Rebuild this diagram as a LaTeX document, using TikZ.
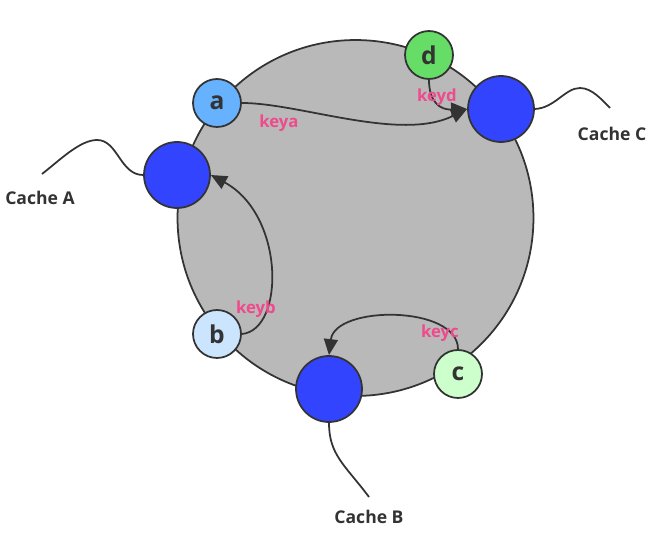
\documentclass[tikz,border=0pt]{standalone}
\usepackage{fontspec}
\setmainfont{Open Sans}
\usepackage{xcolor}
\usetikzlibrary{arrows.meta}
\definecolor{ringgray}{HTML}{B9B9B9}
\definecolor{edgegray}{HTML}{333333}
\definecolor{cacheblue}{HTML}{3344FF}
\definecolor{keypink}{HTML}{EE4A8C}
\definecolor{fillA}{HTML}{66B2FF}
\definecolor{fillB}{HTML}{CCE5FF}
\definecolor{fillC}{HTML}{CCFFCC}
\definecolor{fillD}{HTML}{66DD66}
\tikzset{
  ring/.style   ={draw=edgegray,fill=ringgray,line width=1pt},
  cache/.style  ={circle,draw=edgegray,fill=cacheblue,minimum size=1.32cm,inner sep=0pt,line width=1pt},
  key/.style    ={circle,draw=edgegray,minimum size=0.96cm,inner sep=0pt,line width=1pt,
                  font=\fontsize{14}{16}\selectfont\bfseries,text=edgegray},
  wire/.style   ={draw=edgegray,line width=1pt},
  hop/.style    ={-{Triangle[length=3.2mm,width=2.8mm]},line width=1pt,edgegray},
  cname/.style  ={font=\fontsize{10}{12}\selectfont\bfseries,text=edgegray},
  klbl/.style   ={font=\fontsize{9.5}{11}\selectfont\bfseries,text=keypink},
}
\begin{document}
\begin{tikzpicture}[x=0.02cm,y=-0.02cm]
  \useasboundingbox (0,0) rectangle (650,533);
  % the hash ring
  \draw[ring] (355.5,218) circle[radius=3.56cm];
  % cache servers on the ring
  \node[cache] (cA) at (177,175) {};
  \node[cache] (cB) at (329,389) {};
  \node[cache] (cC) at (501,109) {};
  % keys on the ring
  \foreach \k/\x/\y/\f in {a/217/103/fillA, b/217/334/fillB, c/458/374/fillC, d/429/55/fillD}{
    \node[key,fill=\f] (\k) at (\x,\y) {\k};
  }
  % leads out to the cache names
  \coordinate (endA) at (42,174);
  \coordinate (endB) at (369,497);
  \coordinate (endC) at (610,108);
  \draw[wire] (cA.west) .. controls (120,175) and (118,140) .. (97,140)
                        .. controls (80,140) and (60,160) .. (endA);
  \draw[wire] (cC.east) .. controls (555,108) and (565,88) .. (580,88)
                        .. controls (592,88) and (602,100) .. (endC);
  \draw[wire] (cB.south) .. controls (329,455) and (345,465) .. (endB);
  \node[cname] (nA) at (40,198) {Cache A};
  \node[cname] (nB) at (369,517) {Cache B};
  \node[cname] (nC) at (612,134) {Cache C};
  % each key goes clockwise to the next cache
  \draw[hop] (a.east) .. controls (300,103) and (400,142) .. (cC.west);
  \draw[hop] (d.south) .. controls (429,102) and (440,110) .. (cC.west);
  \draw[hop] (b.east) .. controls (285,330) and (285,215) .. (cA.east);
  \draw[hop] (c.north) .. controls (458,305) and (335,305) .. (cB.north);
  \node[klbl] (la) at (279,123) {keya};
  \node[klbl] (lb) at (256,309) {keyb};
  \node[klbl] (lc) at (440,333) {keyc};
  \node[klbl] (ld) at (437,97)  {keyd};
\end{tikzpicture}
\end{document}
